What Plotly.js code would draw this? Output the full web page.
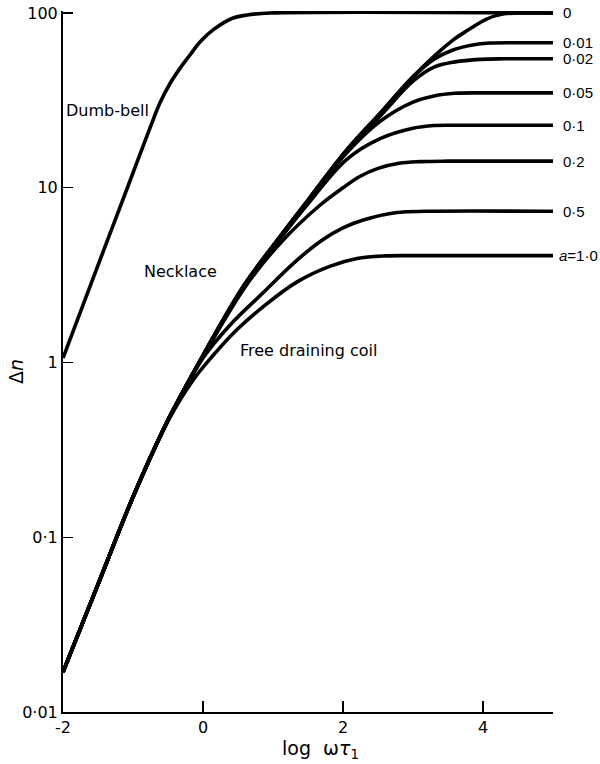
<!DOCTYPE html>
<html>
<head>
<meta charset="utf-8">
<script src="https://cdn.plot.ly/plotly-3.0.1.min.js"></script>
<style>body{margin:0;padding:0;background:#fff}#chart{width:600px;height:764px}</style>
</head>
<body>
<div id="chart"></div>
<script>
// ---- data (x = log ωτ1, y = Δn) ----
const xDumbbell = [-2, -1.7, -1.379, -1.08, -0.757, -0.614, -0.471, -0.329, -0.186, -0.043, 0.143, 0.429, 0.629, 0.957, 5];
const yDumbbell = [1.06, 2.21, 4.83, 10.0, 22.0, 30.6, 39.5, 48.2, 57.5, 68.2, 80.0, 93.6, 97.4, 100, 100];

const xA0 = [-2, -1.5, -1, -0.5, 0, 0.6, 1.1, 1.5, 2.05, 2.53, 3.0, 3.57, 3.8, 4.05, 4.3, 4.6, 5];
const yA0 = [0.0169, 0.0537, 0.170, 0.468, 1.10, 2.82, 5.25, 8.51, 16.4, 26.7, 43.3, 70.0, 80.4, 92.3, 98.9, 100, 100];

const xA001 = [-2, -1.5, -1, -0.5, 0, 0.6, 1.1, 1.5, 2.05, 2.53, 3.0, 3.3, 3.57, 3.85, 4.1, 4.5, 5];
const yA001 = [0.0169, 0.0537, 0.170, 0.468, 1.10, 2.82, 5.25, 8.51, 16.4, 26.5, 42.9, 54.3, 61.4, 65.6, 67.3, 67.6, 67.6];

const xA002 = [-2, -1.5, -1, -0.5, 0, 0.6, 1.1, 1.5, 2.05, 2.53, 3.0, 3.3, 3.6, 3.96, 4.3, 5];
const yA002 = [0.0169, 0.0537, 0.170, 0.468, 1.10, 2.81, 5.22, 8.45, 16.2, 25.7, 40.7, 49.0, 52.5, 54.3, 54.7, 54.7];

const xA005 = [-2, -1.5, -1, -0.5, 0, 0.6, 1.1, 1.5, 2.05, 2.53, 3.0, 3.3, 3.6, 4.0, 5];
const yA005 = [0.0169, 0.0537, 0.170, 0.468, 1.09, 2.79, 5.20, 8.41, 15.8, 24.0, 30.9, 33.5, 34.7, 34.9, 34.9];

const xA01 = [-2, -1.5, -1, -0.5, 0, 0.6, 1.1, 1.5, 2.05, 2.53, 3.0, 3.3, 3.6, 5];
const yA01 = [0.0169, 0.0537, 0.170, 0.468, 1.09, 2.76, 5.10, 8.10, 14.5, 19.1, 21.9, 22.7, 22.8, 22.8];

const xA02 = [-2, -1.5, -1, -0.5, 0, 0.6, 1.1, 1.67, 2.0, 2.24, 2.5, 2.8, 3.1, 3.5, 5];
const yA02 = [0.0169, 0.0537, 0.170, 0.468, 1.08, 2.70, 4.80, 7.94, 10.0, 11.6, 12.9, 13.8, 14.1, 14.2, 14.2];

const xA05 = [-2, -1.5, -1, -0.5, 0, 0.4, 0.86, 1.3, 1.7, 2.0, 2.29, 2.77, 3.2, 5];
const yA05 = [0.0169, 0.0537, 0.170, 0.468, 1.06, 1.66, 2.51, 3.72, 5.01, 5.89, 6.53, 7.21, 7.33, 7.33];

const xA10 = [-2, -1.5, -1, -0.5, -0.14, 0.143, 0.49, 0.862, 1.338, 1.81, 2.2, 2.6, 3.0, 5];
const yA10 = [0.0169, 0.0537, 0.170, 0.462, 0.794, 1.096, 1.549, 2.089, 2.884, 3.548, 3.936, 4.074, 4.09, 4.09];

const curveLabels = ['0', '0·01', '0·02', '0·05', '0·1', '0·2', '0·5', '<i>a</i>=1·0'];
const xTickVals = [-2, 0, 2, 4];
const xTickText = ['-2', '0', '2', '4'];
const yTickVals = [0.01, 0.1, 1, 10, 100];
const yTickText = ['0·01', '0·1', '1', '10', '100'];

// ---- build ----
const FONT = 'DejaVu Sans, Liberation Sans, sans-serif';
const LABFONT = 'Liberation Sans, Arial, sans-serif';
const series = [
  [xA0, yA0], [xA001, yA001], [xA002, yA002], [xA005, yA005],
  [xA01, yA01], [xA02, yA02], [xA05, yA05], [xA10, yA10]
];
const lineStyle = {color: '#000', width: 3.6, shape: 'spline', smoothing: 1};
const traces = [{x: xDumbbell, y: yDumbbell, mode: 'lines', line: lineStyle, hoverinfo: 'skip'}];
series.forEach(s => traces.push({x: s[0], y: s[1], mode: 'lines', line: lineStyle, hoverinfo: 'skip'}));

const annotations = [];
series.forEach((s, i) => {
  const last = i === series.length - 1;
  annotations.push({
    xref: 'paper', x: last ? 1.0085 : 1.016, xanchor: 'left',
    yref: 'y', y: Math.log10(s[1][s[1].length - 1]), yanchor: 'middle',
    text: curveLabels[i], showarrow: false,
    font: {family: LABFONT, size: 15, color: '#000'}
  });
});
const textLabels = [
  {text: 'Dumb-bell', x: 0.0918, y: 0.8584},
  {text: 'Necklace', x: 0.2408, y: 0.628},
  {text: 'Free draining coil', x: 0.502, y: 0.515}
];
textLabels.forEach(t => annotations.push({
  xref: 'paper', yref: 'paper', x: t.x, y: t.y, xanchor: 'center', yanchor: 'middle',
  text: t.text, showarrow: false, font: {family: FONT, size: 16, color: '#000'}
}));
// axis titles
annotations.push({
  xref: 'paper', yref: 'paper', x: (16 - 63) / 490, y: (712 - 372) / 701,
  xanchor: 'center', yanchor: 'middle', textangle: -90,
  text: 'Δ<i>n</i>', showarrow: false, font: {family: FONT, size: 19, color: '#000'}
});
annotations.push({
  xref: 'paper', yref: 'paper', x: (320 - 63) / 490, y: (712 - 749) / 701,
  xanchor: 'center', yanchor: 'middle',
  text: 'log  ω<i>τ</i><sub>1</sub>', showarrow: false, font: {family: FONT, size: 19, color: '#000'}
});

const layout = {
  width: 600, height: 764,
  margin: {l: 63, r: 47, t: 11, b: 52, pad: 0},
  paper_bgcolor: '#fff', plot_bgcolor: '#fff',
  showlegend: false,
  xaxis: {
    range: [-2, 5], tickmode: 'array', tickvals: xTickVals, ticktext: xTickText,
    ticks: 'inside', ticklen: 11, tickwidth: 1.5, tickcolor: '#000',
    showline: true, linecolor: '#000', linewidth: 2, mirror: false,
    showgrid: false, zeroline: false,
    tickfont: {family: FONT, size: 16, color: '#000'}
  },
  yaxis: {
    type: 'log', range: [-2, 2.0114], tickmode: 'array', tickvals: yTickVals, ticktext: yTickText,
    ticks: 'inside', ticklen: 10, tickwidth: 1.5, tickcolor: '#000',
    showline: true, linecolor: '#000', linewidth: 2, mirror: false,
    showgrid: false, zeroline: false,
    tickfont: {family: FONT, size: 16, color: '#000'}
  },
  annotations: annotations
};
Plotly.newPlot('chart', traces, layout, {staticPlot: true, displayModeBar: false});
</script>
</body>
</html>
